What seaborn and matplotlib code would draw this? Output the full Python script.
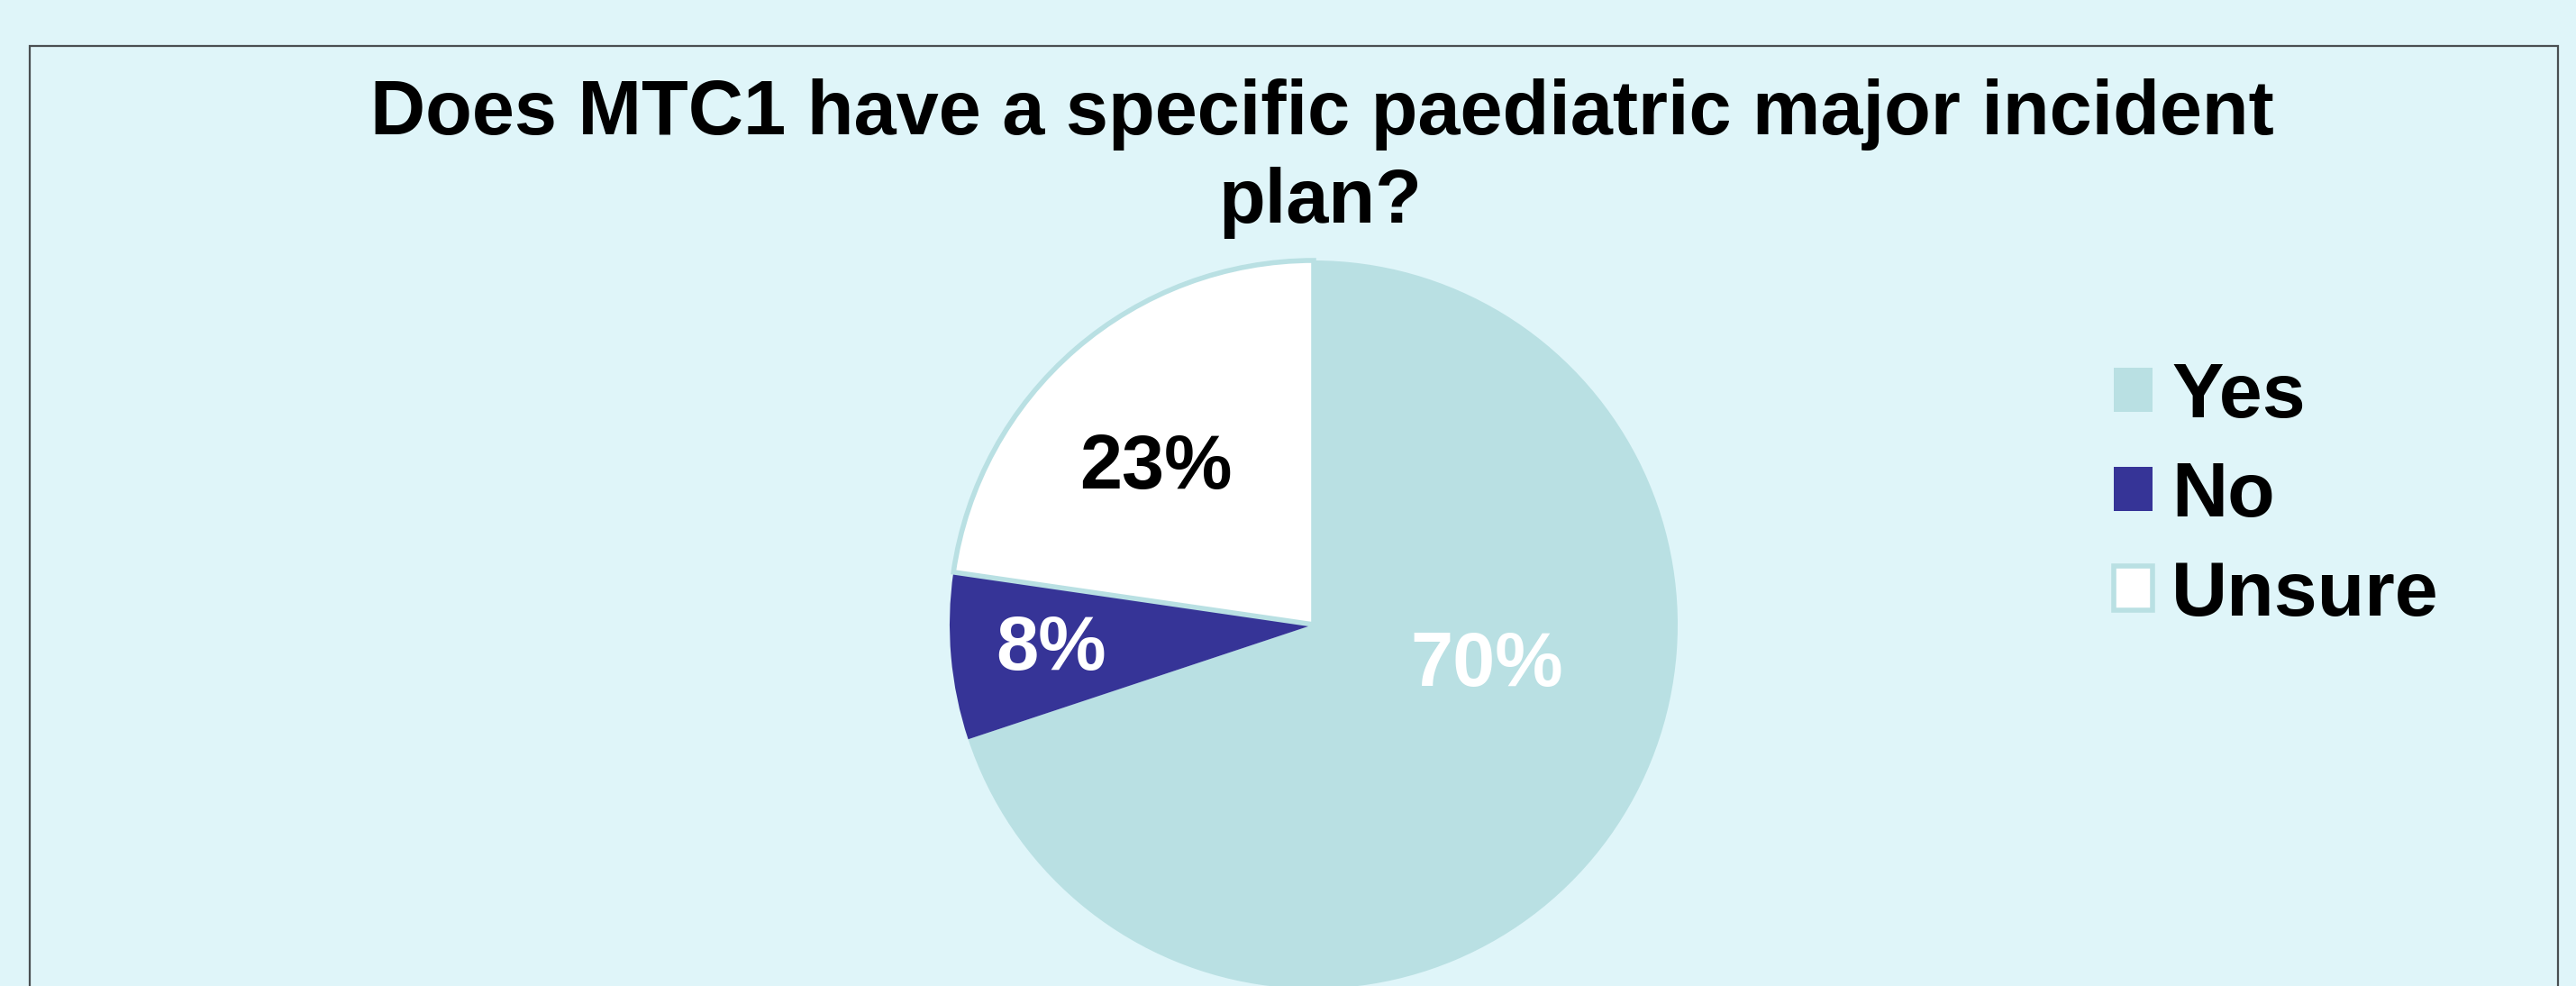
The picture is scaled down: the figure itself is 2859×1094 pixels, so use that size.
import numpy as np
import matplotlib
matplotlib.use("Agg")
import matplotlib.pyplot as plt
import matplotlib.patches as mpatches
import seaborn as sns

# ---- data ----
categories = ["Yes", "No", "Unsure"]
percent_values = [69.9, 7.4, 22.7]
percent_labels = ["70%", "8%", "23%"]
title_lines = ["Does MTC1 have a specific paediatric major incident", "plan?"]

# ---- style ----
sns.set_theme(style="white")
plt.rcParams['font.family'] = ['Liberation Sans', 'DejaVu Sans']
plt.rcParams['font.weight'] = 'bold'
plt.rcParams['text.color'] = 'black'

BG = "#dff5f9"
colors = ["#b9e0e3", "#363497", "#ffffff"]
label_colors = ["white", "white", "black"]

W, H = 2859, 1094
fig = plt.figure(figsize=(W / 100, H / 100), dpi=100, facecolor=BG)

# frame rectangle
rect = mpatches.Rectangle((33 / W, -0.05), (2839 - 33) / W, 1 - 51 / H + 0.05,
                          transform=fig.transFigure, fill=False,
                          edgecolor="#4a4f52", linewidth=1.6, zorder=0)
fig.patches.append(rect)

# pie axes
cx, cy, r = 1458, 693, 404
ax = fig.add_axes([(cx - r) / W, (H - cy - r) / H, 2 * r / W, 2 * r / H])
ax.set_facecolor("none")
ax.axis("off")

wedges, texts, autotexts = ax.pie(
    percent_values, colors=colors, startangle=90, counterclock=False,
    radius=1.0, autopct=lambda p: "", pctdistance=0.7,
    wedgeprops=dict(linewidth=0))
wedges[2].set_edgecolor("#b9e0e3")
wedges[2].set_linewidth(4)
ax.set_xlim(-1, 1)
ax.set_ylim(-1, 1)

# label placement (Excel-like: based on wedge mid-angle)
label_dist = [0.49, 0.725, 0.61]
label_angle_shift = [22.4, 0.4, 4.4]
for i, w in enumerate(wedges):
    mid = np.deg2rad((w.theta1 + w.theta2) / 2 + label_angle_shift[i])
    ax.text(label_dist[i] * np.cos(mid), label_dist[i] * np.sin(mid),
            percent_labels[i], ha="center", va="center",
            fontsize=61, fontweight="bold", color=label_colors[i])
for t in autotexts:
    t.set_visible(False)

# title
fig.text(1467 / W, 1 - 149 / H, title_lines[0], ha="center", va="baseline",
         fontsize=61, fontweight="bold", color="black")
fig.text(1465 / W, 1 - 247 / H, title_lines[1], ha="center", va="baseline",
         fontsize=61, fontweight="bold", color="black")

# legend
handles = [mpatches.Patch(facecolor=colors[i],
                          edgecolor=("#b9e0e3" if i == 2 else colors[i]),
                          linewidth=(4 if i == 2 else 0))
           for i in range(3)]
leg = fig.legend(handles, categories, loc="center left",
                 bbox_to_anchor=(2268 / W, 1 - 551 / H),
                 frameon=False, handlelength=0.5,
                 handleheight=0.5, handletextpad=0.25, labelspacing=0.35,
                 prop=dict(weight="bold", size=62))
for t in leg.get_texts():
    t.set_color("black")

fig.savefig("out.png", dpi=100, facecolor=BG)
